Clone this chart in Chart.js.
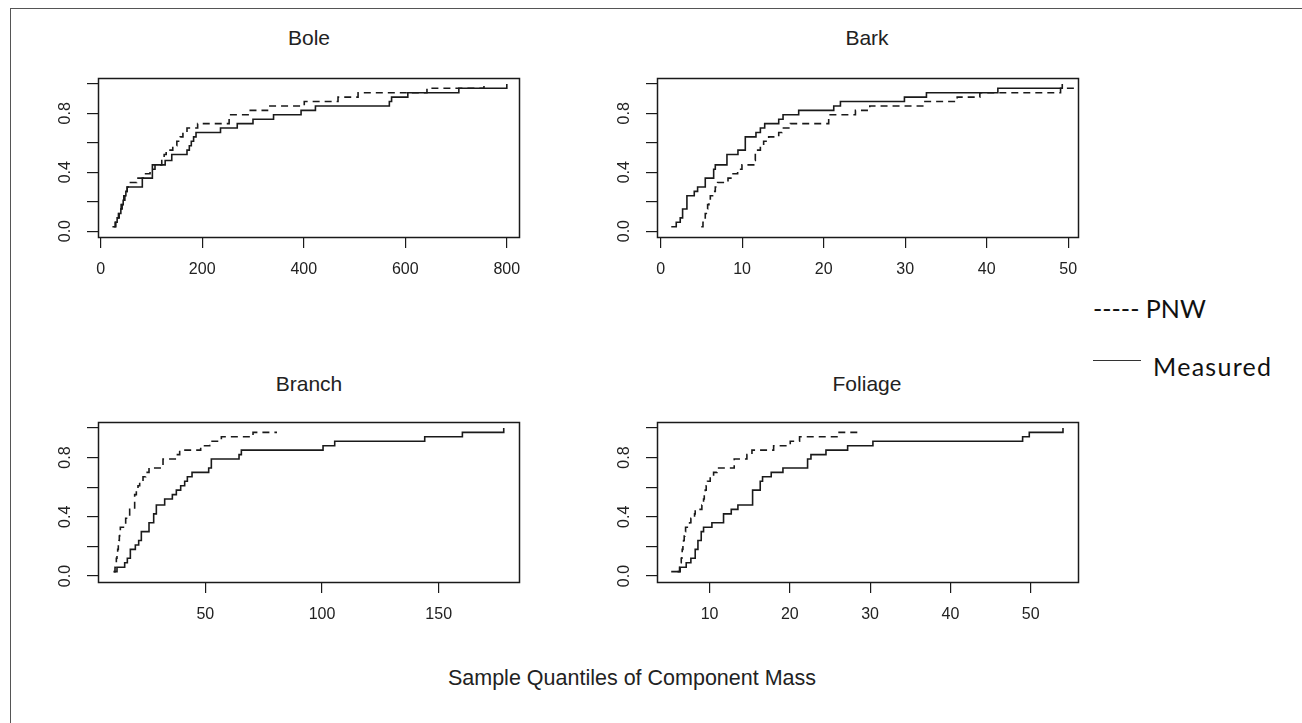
<!DOCTYPE html>
<html><head><meta charset="utf-8">
<script src="https://cdn.jsdelivr.net/npm/chart.js@4.4.1/dist/chart.umd.min.js"></script>
<style>
html,body{margin:0;padding:0;width:1302px;height:723px;overflow:hidden;background:#fff;}
#frame{position:absolute;left:10px;top:8px;width:1400px;height:800px;border-left:1px solid #555;border-top:1px solid #555;}
canvas{position:absolute;}
.ttl{position:absolute;width:400px;text-align:center;font-family:'Liberation Sans',Arial,sans-serif;font-size:21px;line-height:21px;color:#222;white-space:nowrap;}
.xlab{position:absolute;width:700px;text-align:center;font-family:'Liberation Sans',Arial,sans-serif;font-size:21.5px;line-height:21.5px;color:#222;white-space:nowrap;}
.leg{position:absolute;font-family:Lato,'Open Sans',sans-serif;font-size:25px;line-height:30px;color:#111;white-space:pre;}
#legline{position:absolute;left:1093px;top:360px;width:48px;height:0;border-top:1px solid #333;}
</style></head><body>
<div id="frame"></div>
<div class="ttl" style="left:109px;top:27px">Bole</div>
<div class="ttl" style="left:667px;top:27px">Bark</div>
<div class="ttl" style="left:109px;top:373px">Branch</div>
<div class="ttl" style="left:667px;top:373px">Foliage</div>
<div class="xlab" style="left:282px;top:668px">Sample Quantiles of Component Mass</div>
<div class="leg" style="left:1093px;top:293px">----- PNW</div>
<div id="legline"></div>
<div class="leg" style="left:1153px;top:351px;letter-spacing:1.3px">Measured</div>
<script>
// ---- data ----
const yTickValues = [0, 0.2, 0.4, 0.6, 0.8, 1.0];
const yTickLabels = ['0.0', '', '0.4', '', '0.8', ''];

const boleTicks = [0, 200, 400, 600, 800];
const barkTicks = [0, 10, 20, 30, 40, 50];
const branchTicks = [50, 100, 150];
const foliageTicks = [10, 20, 30, 40, 50];

const boleMeasuredX = [23.1, 29.8, 32.4, 36.4, 39.7, 42.3, 44.3, 47.6, 49.6, 52.2, 82, 101.8, 127, 140, 170, 174.6, 178.5, 183, 187.8, 236, 269, 300, 340.5, 394.7, 423, 568.6, 573, 605, 705.5, 800];
const boleMeasuredY = [0.03, 0.06, 0.09, 0.12, 0.15, 0.18, 0.21, 0.24, 0.27, 0.30, 0.36, 0.45, 0.48, 0.52, 0.55, 0.58, 0.61, 0.64, 0.67, 0.70, 0.73, 0.76, 0.79, 0.82, 0.85, 0.88, 0.91, 0.94, 0.97, 1.0];
const bolePnwX = [25.8, 28.4, 31.1, 35, 37.7, 40.3, 43, 45.6, 48.3, 52.2, 56.2, 70.7, 84, 97.2, 107, 120.3, 125, 129, 142, 150, 156.7, 162, 170, 191, 253, 292, 328.6, 401, 467.5, 507, 642.7, 755];
const bolePnwY = [0.03, 0.06, 0.09, 0.12, 0.15, 0.18, 0.21, 0.24, 0.27, 0.30, 0.33, 0.36, 0.39, 0.42, 0.45, 0.48, 0.52, 0.55, 0.58, 0.61, 0.64, 0.67, 0.70, 0.73, 0.79, 0.82, 0.85, 0.88, 0.91, 0.94, 0.97, 1.0];

const barkMeasuredX = [1.31, 1.92, 2.41, 2.70, 3.23, 4.13, 4.54, 5.48, 6.51, 6.71, 8.14, 9.49, 10.39, 11.70, 12.24, 12.77, 14.49, 15.02, 16.94, 21.24, 22.06, 29.91, 32.61, 41.37, 49.27];
const barkMeasuredY = [0.03, 0.06, 0.09, 0.15, 0.24, 0.27, 0.30, 0.36, 0.42, 0.45, 0.52, 0.55, 0.64, 0.67, 0.70, 0.73, 0.76, 0.79, 0.82, 0.85, 0.88, 0.91, 0.94, 0.97, 1.0];
const barkPnwX = [4.99, 5.20, 5.36, 5.48, 5.61, 5.77, 5.93, 6.10, 6.51, 6.71, 7.00, 8.27, 8.76, 9.45, 9.98, 11.42, 11.62, 11.91, 12.24, 12.64, 13.26, 14.49, 14.89, 15.92, 20.62, 23.90, 25.66, 32.29, 36.38, 39.16, 49.06, 50.78];
const barkPnwY = [0.03, 0.06, 0.09, 0.12, 0.15, 0.18, 0.21, 0.24, 0.27, 0.30, 0.33, 0.36, 0.39, 0.42, 0.45, 0.48, 0.52, 0.55, 0.58, 0.61, 0.64, 0.67, 0.70, 0.73, 0.79, 0.82, 0.85, 0.88, 0.91, 0.94, 0.97, 0.97];

const branchMeasuredX = [10.71, 12.14, 15.43, 16.57, 17.86, 20, 21.43, 22.57, 25.86, 27.86, 29, 32.57, 35.86, 37.57, 39.43, 41.14, 42.29, 44.29, 51.43, 52.57, 64.43, 65.43, 100.43, 105.43, 144, 160.14, 177.86];
const branchMeasuredY = [0.03, 0.06, 0.09, 0.12, 0.18, 0.21, 0.24, 0.30, 0.36, 0.42, 0.48, 0.52, 0.55, 0.58, 0.61, 0.64, 0.67, 0.70, 0.73, 0.79, 0.82, 0.85, 0.88, 0.91, 0.94, 0.97, 1.0];
const branchPnwX = [10.71, 11.29, 11.57, 11.86, 12.14, 12.43, 12.71, 13, 13.14, 13.29, 13.57, 15.86, 17.57, 19.71, 20.43, 21.14, 21.86, 23.29, 24.43, 25.86, 31.86, 37.57, 39, 48, 51.86, 56.86, 70.43, 80.71];
const branchPnwY = [0.03, 0.06, 0.09, 0.12, 0.15, 0.18, 0.21, 0.24, 0.27, 0.30, 0.33, 0.39, 0.45, 0.55, 0.58, 0.61, 0.64, 0.67, 0.70, 0.73, 0.79, 0.82, 0.85, 0.88, 0.91, 0.94, 0.97, 0.97];

const foliageMeasuredX = [5.22, 6.34, 7.09, 7.67, 8.21, 8.55, 8.96, 9.25, 10.29, 11.74, 12.70, 13.53, 15.36, 16.31, 16.60, 17.68, 19.14, 22.21, 22.63, 24.50, 27.20, 30.35, 49.0, 49.83, 54.03];
const foliageMeasuredY = [0.03, 0.06, 0.09, 0.12, 0.18, 0.24, 0.30, 0.33, 0.36, 0.42, 0.45, 0.48, 0.58, 0.64, 0.67, 0.70, 0.73, 0.79, 0.82, 0.85, 0.88, 0.91, 0.94, 0.97, 1.0];
const foliagePnwX = [6.01, 6.26, 6.39, 6.47, 6.55, 6.59, 6.68, 6.76, 6.84, 6.93, 7.01, 7.51, 7.67, 8.13, 8.21, 9.04, 9.25, 9.34, 9.46, 9.58, 9.75, 10.08, 10.50, 10.91, 13.07, 14.65, 15.28, 17.98, 20.05, 21.21, 25.87, 28.98];
const foliagePnwY = [0.03, 0.06, 0.09, 0.12, 0.15, 0.18, 0.21, 0.24, 0.27, 0.30, 0.33, 0.36, 0.39, 0.42, 0.45, 0.48, 0.52, 0.55, 0.58, 0.61, 0.64, 0.67, 0.70, 0.73, 0.79, 0.82, 0.85, 0.88, 0.91, 0.94, 0.97, 0.97];

// ---- layout ----
const FONT = "'Liberation Sans', Arial, sans-serif";
const INK = '#1a1a1a';
const YPAD = 80, XPAD = 50, TOPPAD = 30, RIGHTPAD = 30;

const panels = [
  {box: [98, 78, 519, 237], xr: [-5.3, 824], ticks: boleTicks, mx: boleMeasuredX, my: boleMeasuredY, px: bolePnwX, py: bolePnwY},
  {box: [657, 78, 1078, 237], xr: [-0.44, 51.2], ticks: barkTicks, mx: barkMeasuredX, my: barkMeasuredY, px: barkPnwX, py: barkPnwY},
  {box: [98, 422, 519, 582], xr: [4.0, 184.4], ticks: branchTicks, mx: branchMeasuredX, my: branchMeasuredY, px: branchPnwX, py: branchPnwY},
  {box: [657, 422, 1078, 582], xr: [3.45, 55.9], ticks: foliageTicks, mx: foliageMeasuredX, my: foliageMeasuredY, px: foliagePnwX, py: foliagePnwY}
];

const boxPlugin = {
  id: 'rbox',
  afterDatasetsDraw(chart) {
    const a = chart.chartArea, ctx = chart.ctx;
    ctx.save();
    ctx.strokeStyle = INK;
    ctx.lineWidth = 1.5;
    ctx.strokeRect(Math.round(a.left) + 0.5, Math.round(a.top) + 0.5, Math.round(a.right - a.left), Math.round(a.bottom - a.top));
    ctx.restore();
  }
};

function pts(xs, ys) { return xs.map((x, i) => ({x: x, y: ys[i]})); }

panels.forEach(p => {
  const [L, T, R, B] = p.box;
  const cv = document.createElement('canvas');
  const w = R - L + YPAD + RIGHTPAD, h = B - T + TOPPAD + XPAD;
  cv.width = w; cv.height = h;
  cv.style.left = (L - YPAD) + 'px'; cv.style.top = (T - TOPPAD) + 'px';
  cv.style.width = w + 'px'; cv.style.height = h + 'px';
  document.body.appendChild(cv);
  new Chart(cv, {
    type: 'line',
    data: {
      datasets: [
        {label: 'Measured', data: pts(p.mx, p.my), stepped: 'before', borderColor: INK, borderWidth: 1.6, pointRadius: 0, fill: false},
        {label: 'PNW', data: pts(p.px, p.py), stepped: 'before', borderColor: INK, borderWidth: 1.6, borderDash: [7, 5], pointRadius: 0, fill: false}
      ]
    },
    options: {
      responsive: false, animation: false, devicePixelRatio: 1,
      layout: {padding: {left: 0, top: TOPPAD, right: RIGHTPAD, bottom: 0}},
      plugins: {legend: {display: false}, tooltip: {enabled: false}, title: {display: false}},
      scales: {
        x: {
          type: 'linear', position: 'bottom', min: p.xr[0], max: p.xr[1],
          afterBuildTicks: s => { s.ticks = p.ticks.map(v => ({value: v})); },
          afterFit: s => { s.height = XPAD; },
          border: {display: true, color: INK, width: 1},
          grid: {display: true, drawOnChartArea: false, drawTicks: true, tickLength: 11, color: INK, lineWidth: 1.2},
          ticks: {autoSkip: false, maxRotation: 0, minRotation: 0, padding: 12, color: '#222', font: {family: FONT, size: 16},
                  callback: (v, i) => String(p.ticks[i])}
        },
        y: {
          type: 'linear', position: 'left', min: -0.04, max: 1.04,
          afterBuildTicks: s => { s.ticks = yTickValues.map(v => ({value: v})); },
          afterFit: s => { s.width = YPAD; },
          border: {display: true, color: INK, width: 1},
          grid: {display: true, drawOnChartArea: false, drawTicks: true, tickLength: 11, color: INK, lineWidth: 1.2},
          ticks: {autoSkip: false, minRotation: 90, maxRotation: 90, crossAlign: 'center', padding: 10, color: '#222', font: {family: FONT, size: 16},
                  callback: (v, i) => yTickLabels[i]}
        }
      }
    },
    plugins: [boxPlugin]
  });
});
</script>
</body></html>
